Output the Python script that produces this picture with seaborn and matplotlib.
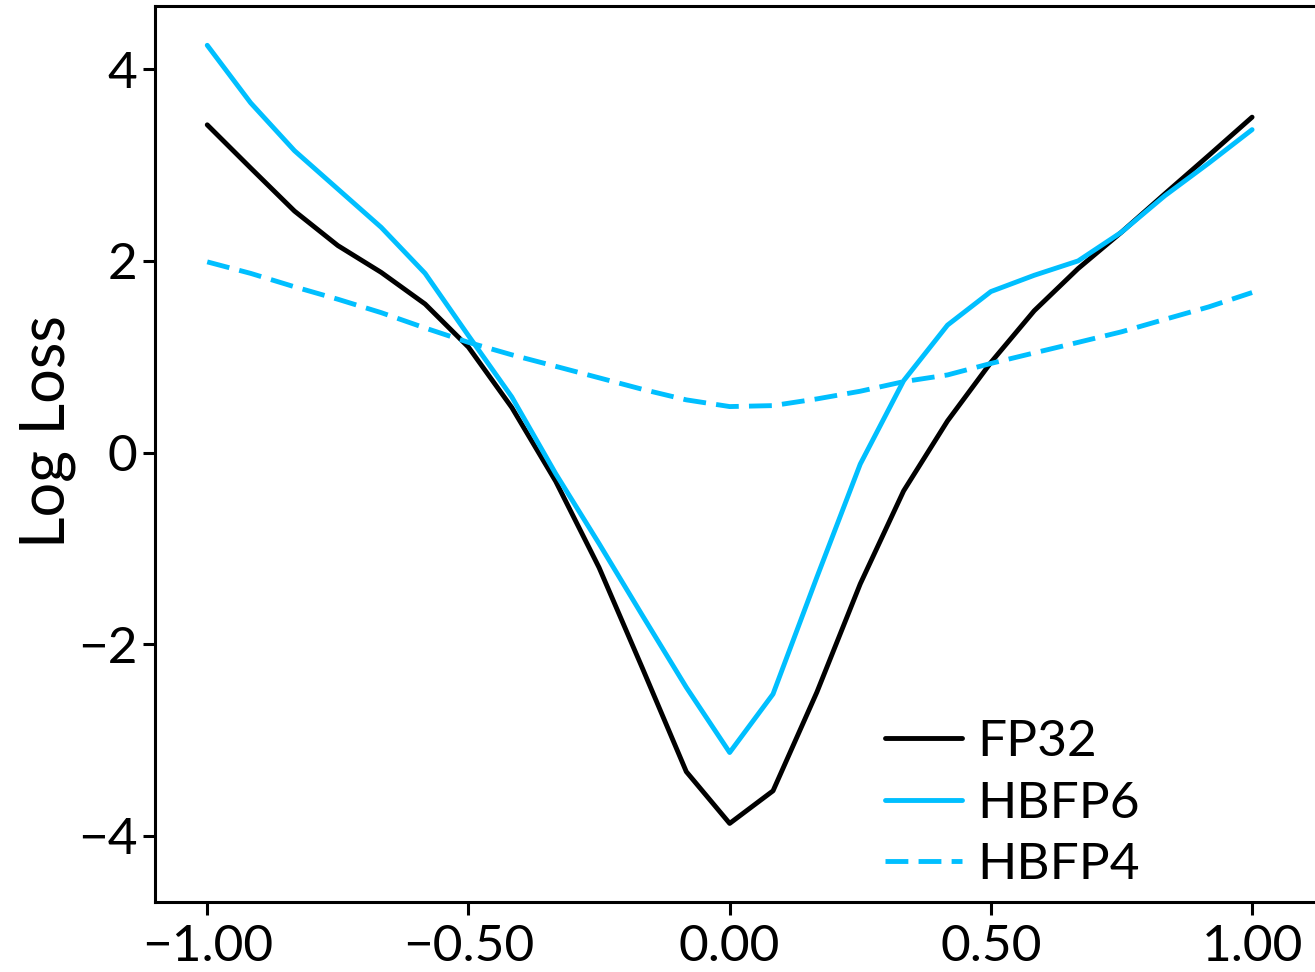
import numpy as np
import pandas as pd
import seaborn as sns
import matplotlib.pyplot as plt

# 25 evenly spaced interpolation steps between -1 and 1
alpha = [-1.0, -0.917, -0.833, -0.75, -0.667, -0.583, -0.5, -0.417, -0.333, -0.25, -0.167, -0.083,
         0.0, 0.083, 0.167, 0.25, 0.333, 0.417, 0.5, 0.583, 0.667, 0.75, 0.833, 0.917, 1.0]
fp32 = [3.42, 2.97, 2.52, 2.16, 1.88, 1.55, 1.10, 0.47, -0.30, -1.20, -2.25, -3.33,
        -3.87, -3.53, -2.50, -1.37, -0.40, 0.33, 0.94, 1.48, 1.92, 2.30, 2.70, 3.10, 3.50]
hbfp6 = [4.25, 3.65, 3.15, 2.75, 2.35, 1.87, 1.22, 0.58, -0.22, -0.95, -1.70, -2.45,
         -3.13, -2.52, -1.30, -0.12, 0.75, 1.33, 1.68, 1.85, 2.00, 2.30, 2.68, 3.02, 3.37]
hbfp4 = [1.99, 1.87, 1.73, 1.60, 1.46, 1.30, 1.15, 1.02, 0.90, 0.78, 0.66, 0.55,
         0.48, 0.49, 0.56, 0.64, 0.74, 0.81, 0.93, 1.04, 1.15, 1.26, 1.39, 1.52, 1.67]

sns.set_style('ticks')
plt.rcParams['font.family'] = ['Lato', 'DejaVu Sans']
plt.rcParams['axes.linewidth'] = 2.2
plt.rcParams['axes.edgecolor'] = 'black'
plt.rcParams['text.color'] = 'black'
plt.rcParams['axes.labelcolor'] = 'black'
plt.rcParams['xtick.color'] = 'black'
plt.rcParams['ytick.color'] = 'black'

fig = plt.figure(figsize=(13.15, 9.72), dpi=100)
ax = fig.add_axes([155/1315, 70/972, 1165/1315, 896/972])

blue = '#00bfff'
sns.lineplot(x=alpha, y=fp32, ax=ax, color='black', lw=3.5, label='FP32')
sns.lineplot(x=alpha, y=hbfp6, ax=ax, color=blue, lw=3.5, label='HBFP6')
sns.lineplot(x=alpha, y=hbfp4, ax=ax, color=blue, lw=3.5, ls=(0, (4.7, 2.1)), label='HBFP4')

ax.set_xlim(-1.1, 1.13)
ax.set_ylim(-4.69, 4.66)
ax.set_xticks([-1.0, -0.5, 0.0, 0.5, 1.0])
ax.set_xticklabels(['−1.00', '−0.50', '0.00', '0.50', '1.00'])
ax.set_yticks([-4, -2, 0, 2, 4])
ax.set_yticklabels(['−4', '−2', '0', '2', '4'])
ax.tick_params(labelsize=37, width=2.2, length=9)
ax.tick_params(axis='x', pad=7)
ax.set_ylabel('Log Loss', fontsize=44)
ax.yaxis.set_label_coords(-0.068, 0.525)
ax.legend(loc='lower left', bbox_to_anchor=(0.587, -0.036), frameon=False, fontsize=37,
          handlelength=1.5, labelspacing=0.3, handletextpad=0.3)

fig.savefig('out.png', dpi=100)
